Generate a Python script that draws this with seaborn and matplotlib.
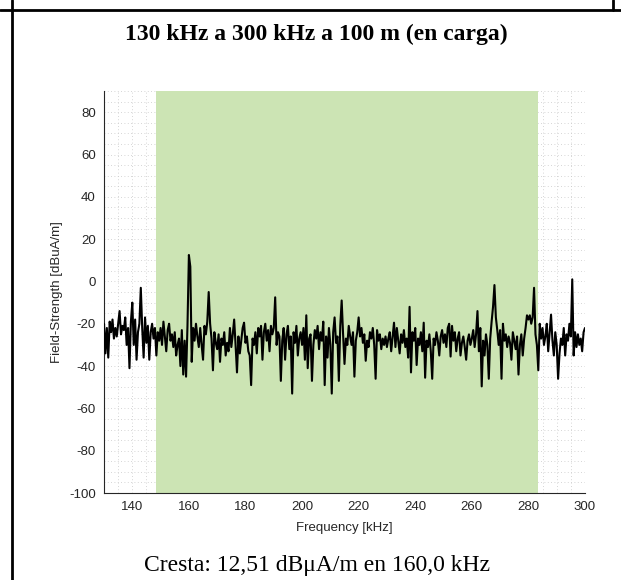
import numpy as np
import pandas as pd
import matplotlib
matplotlib.use('Agg')
import matplotlib.pyplot as plt
from matplotlib.ticker import MultipleLocator
from matplotlib.lines import Line2D
import seaborn as sns

# sweep settings (kHz)
f_start = 130.0
f_stop = 300.0
f_step = 0.5

# measured field strength [dBuA/m], one value every 0.5 kHz from 130 to 300 kHz
level = [
    -20, -34, -22, -36, -19, -24, -18, -27, -22, -26,
    -20, -14, -25, -21, -23, -17, -30, -22, -41, -19,
    -10, -30, -18, -37, -24, -20, -3, -22, -36, -17,
    -29, -21, -37, -24, -20, -27, -22, -35, -24, -28,
    -22, -30, -19, -26, -33, -23, -20, -28, -25, -31,
    -24, -35, -30, -27, -40, -23, -44, -28, -45, -21,
    12.51, 7, -38, -22, -28, -20, -26, -31, -22, -30,
    -37, -21, -25, -19, -5, -20, -27, -42, -24, -29,
    -32, -25, -38, -27, -30, -24, -35, -29, -33, -22,
    -31, -25, -18, -30, -43, -26, -34, -28, -22, -19.5,
    -29, -26, -33, -35, -49, -27, -30, -24, -34, -22,
    -26, -21, -37, -24, -20, -28, -23, -33, -21, -25,
    -22, -7.5, -30, -24, -26, -47, -28, -22, -37, -25,
    -21, -32, -26, -53, -24, -29, -21, -35, -27, -24,
    -30, -22, -37, -16, -41, -27, -25, -47, -30, -23,
    -27, -21, -32, -24, -28, -19, -49, -26, -36, -22,
    -30, -53, -24, -17, -29, -26, -47, -21, -9, -25,
    -39, -27, -30, -21, -26, -30, -24, -45, -28, -24,
    -17, -26, -22, -29, -25, -37.5, -28, -31, -24, -27,
    -22, -30, -46, -23, -28, -25, -32, -27, -30, -26,
    -31, -27, -24, -33, -26, -19.5, -31, -22, -28, -34,
    -25, -29, -23, -31, -27, -36, -12, -43, -24, -28,
    -22, -39.5, -27, -30, -24, -33, -19.5, -45.5, -28, -31,
    -25, -33, -46, -27, -30, -24, -28, -35, -26, -23,
    -29, -25, -31, -22, -20, -35.5, -21, -28, -24, -33,
    -27, -24, -35, -29, -26, -31, -37, -28, -25, -30,
    -27, -23, -31, -25, -14, -33, -22, -49.6, -28, -35,
    -25, -30, -46, -27, -19, -12, -1.7, -17, -23, -30,
    -23, -46, -20, -28, -25, -31, -26, -29, -37, -24,
    -28, -32, -26, -44, -30, -25, -35, -27, -22, -16,
    -18, -16, -20, -17, -3, -25, -30, -42, -20, -27,
    -22, -30, -26, -20, -33, -24, -15.7, -28, -35, -24,
    -30, -46, -34, -27, -30, -22, -35, -25, -28, -20,
    -26, 1, -35, -24, -31, -25, -30, -27, -33, -24, -22,
]

# highlighted band (kHz)
band = [148.5, 283.5]

title_text = '130 kHz a 300 kHz a 100 m (en carga)'
caption_text = 'Cresta: 12,51 dBμA/m en 160,0 kHz'
x_ticks = [140, 160, 180, 200, 220, 240, 260, 280, 300]
y_ticks = [-100, -80, -60, -40, -20, 0, 20, 40, 60, 80]


def main():
    sns.set_style('white')
    plt.rcParams['font.family'] = ['Liberation Sans', 'DejaVu Sans']
    plt.rcParams['axes.unicode_minus'] = False

    n = int(round((f_stop - f_start) / f_step)) + 1
    df = pd.DataFrame({'freq': np.linspace(f_start, f_stop, n), 'level': level})

    fig = plt.figure(figsize=(6.21, 5.80), dpi=100)
    ax = fig.add_axes([0.1675, 0.15, 0.7745, 0.693])

    ax.axvspan(band[0], band[1], color='#cce4b4', lw=0, zorder=1)
    sns.lineplot(data=df, x='freq', y='level', ax=ax, color='black', lw=1.5, zorder=3)

    ax.set_xlim(f_start, f_stop)
    ax.set_ylim(-100, 90)
    ax.set_xticks(x_ticks)
    ax.set_yticks(y_ticks)
    ax.xaxis.set_minor_locator(MultipleLocator(5))
    ax.yaxis.set_minor_locator(MultipleLocator(5))
    ax.set_axisbelow(True)
    ax.grid(True, which='both', linestyle=(0, (1, 3)), color='#c8c8c8', lw=0.6)
    ax.tick_params(which='major', direction='in', length=4, width=0.8,
                   colors='#262626', labelsize=9.5, pad=6)
    ax.tick_params(which='minor', length=0)
    for side in ['top', 'right']:
        ax.spines[side].set_visible(False)
    for side in ['left', 'bottom']:
        ax.spines[side].set_color('#262626')
        ax.spines[side].set_linewidth(0.8)

    ax.set_xlabel('Frequency [kHz]', fontsize=9.5, color='#262626', labelpad=6)
    ax.set_ylabel('Field-Strength [dBuA/m]', fontsize=9.5, color='#262626', labelpad=4)

    # page table borders
    fig.add_artist(Line2D([12 / 621, 12 / 621], [0, 1], transform=fig.transFigure,
                          color='black', lw=2))
    fig.add_artist(Line2D([0, 1], [1 - 10 / 580, 1 - 10 / 580], transform=fig.transFigure,
                          color='black', lw=2))
    fig.add_artist(Line2D([613 / 621, 613 / 621], [1, 1 - 10 / 580], transform=fig.transFigure,
                          color='black', lw=2))

    fig.text(0.51, 1 - 34 / 580, title_text, ha='center', va='center', color='black',
             fontsize=17, fontweight='bold', family=['Liberation Serif', 'DejaVu Serif'])
    fig.text(0.51, 1 - 565 / 580, caption_text, ha='center', va='center', color='black',
             fontsize=17, family=['Liberation Serif', 'DejaVu Serif'])

    fig.savefig('out.png', dpi=100)


if __name__ == '__main__':
    main()
